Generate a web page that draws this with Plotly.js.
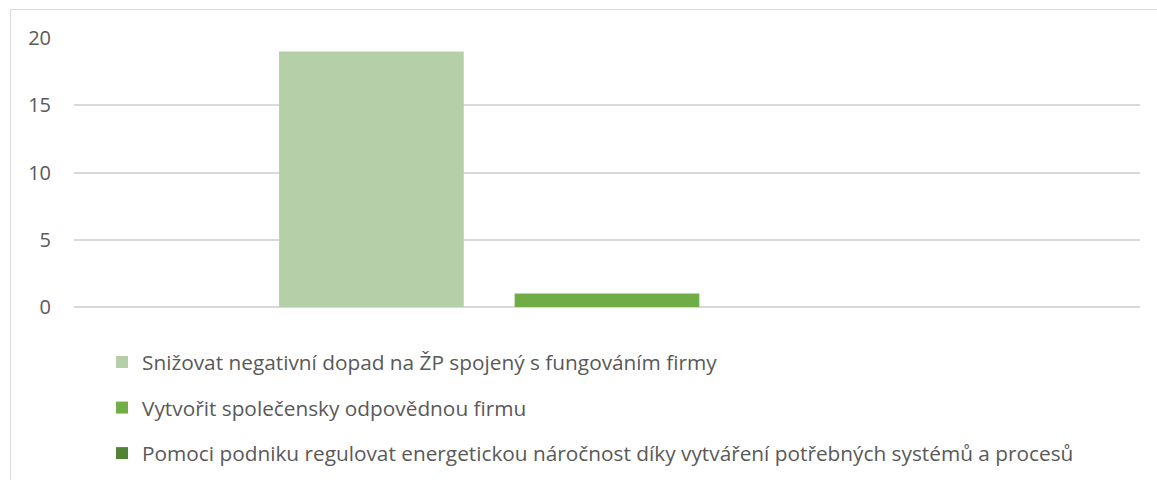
<!DOCTYPE html>
<html>
<head>
<meta charset="utf-8">
<script src="https://cdn.plot.ly/plotly-3.0.1.min.js"></script>
<style>
  html, body { margin: 0; padding: 0; background: #ffffff; }
  #wrap { position: relative; width: 1157px; height: 480px; overflow: hidden; }
  #frame { position: absolute; left: 10px; top: 9px; width: 1200px; height: 520px; border: 1.5px solid #d9d9d9; box-sizing: border-box; }
  #chart { position: absolute; left: 0; top: 0; width: 1157px; height: 480px; }
</style>
</head>
<body>
<div id="wrap">
  <div id="frame"></div>
  <div id="chart"></div>
</div>
<script>
const categories = ["Odpověď"];
const seriesNames = [
  "Snižovat negativní dopad na ŽP spojený s fungováním firmy",
  "Vytvořit společensky odpovědnou firmu",
  "Pomoci podniku regulovat energetickou náročnost díky vytváření potřebných systémů a procesů"
];
const seriesValues = [[19], [1], [0]];
const seriesColors = ["#b5cfa8", "#70ad47", "#548235"];
const yTicks = [0, 5, 10, 15, 20];

const traces = seriesNames.map((name, i) => ({
  type: "bar",
  name: name,
  x: categories,
  y: seriesValues[i],
  marker: { color: seriesColors[i], line: { width: 0 } },
  legendgroup: "g" + i,
  hoverinfo: "name+y"
}));

const layout = {
  width: 1157,
  height: 480,
  margin: { l: 74, r: 17, t: 38, b: 173, autoexpand: false },
  paper_bgcolor: "rgba(0,0,0,0)",
  plot_bgcolor: "rgba(0,0,0,0)",
  font: { family: "Open Sans, sans-serif", color: "#595959", size: 20 },
  barmode: "group",
  bargap: 0.337,
  bargroupgap: 0.216,
  showlegend: true,
  legend: {
    orientation: "v",
    x: 0.0263,
    xanchor: "left",
    yref: "container",
    y: 0.2875,
    yanchor: "top",
    traceorder: "grouped",
    tracegroupgap: 15.5,
    font: { size: 20.8, color: "#595959" },
    bgcolor: "rgba(0,0,0,0)"
  },
  xaxis: {
    type: "category",
    showticklabels: false,
    showgrid: false,
    zeroline: false,
    showline: false,
    ticks: ""
  },
  yaxis: {
    range: [0, 20],
    tickvals: yTicks,
    ticktext: yTicks.map(String),
    showgrid: true,
    gridcolor: "#d9d9d9",
    gridwidth: 1.5,
    zeroline: true,
    zerolinecolor: "#d9d9d9",
    zerolinewidth: 1.5,
    showline: false,
    ticks: "",
    ticklabelstandoff: 22,
    tickfont: { size: 20, color: "#595959" }
  }
};

Plotly.newPlot("chart", traces, layout, { displayModeBar: false, responsive: false });
</script>
</body>
</html>
